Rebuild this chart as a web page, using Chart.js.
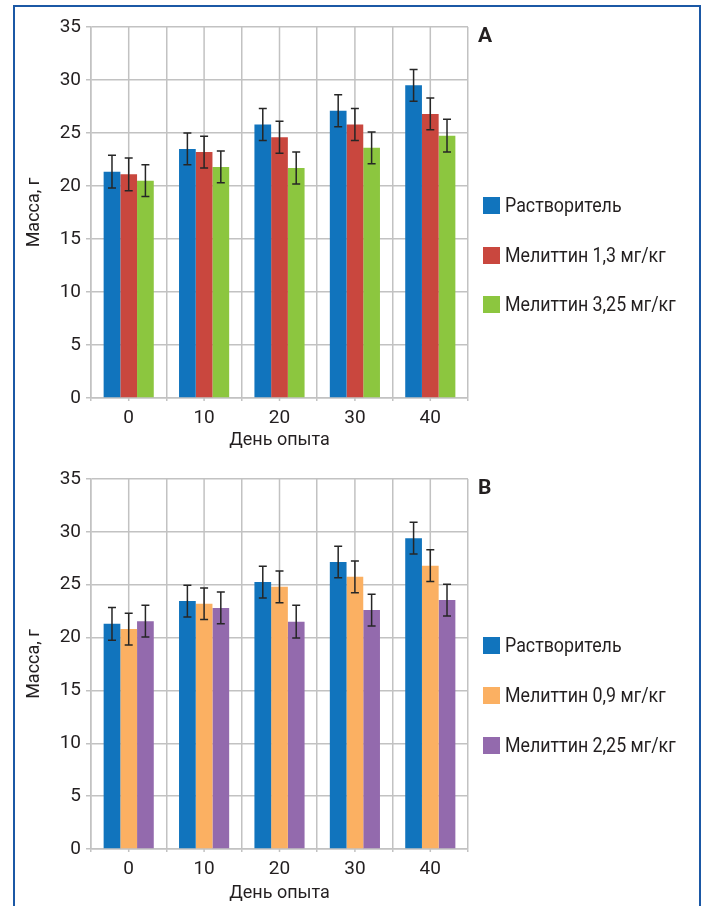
<!DOCTYPE html>
<html>
<head>
<meta charset="utf-8">
<script src="https://cdn.jsdelivr.net/npm/chart.js@4.4.1/dist/chart.umd.min.js"></script>
<style>
  body { margin: 0; width: 702px; height: 906px; overflow: hidden; background: #fff;
         font-family: Roboto, sans-serif; color: #231f20; }
  .frame { position: absolute; left: 13px; top: 5px; width: 684px; height: 960px;
           border: 2px solid #1b58a5; }
  .box { position: absolute; }
  .letter { position: absolute; left: 478px; font-weight: bold; font-size: 21px; line-height: 22px; }
  .leg { position: absolute; left: 483px; height: 17px; font-size: 20px; line-height: 17px; white-space: nowrap; }
  .leg span.sw { display: inline-block; width: 17px; height: 17px; vertical-align: top; margin-right: 5px; }
  .leg span.tx { display: inline-block; transform: scaleX(0.89); transform-origin: 0 50%; }
</style>
</head>
<body>
<div class="frame"></div>

<div class="box" style="left:15px; top:8px;"><canvas id="chartA" width="685" height="447"></canvas></div>
<div class="box" style="left:15px; top:455px;"><canvas id="chartB" width="685" height="451"></canvas></div>

<div class="letter" style="top:24px;">A</div>
<div class="letter" style="top:476px;">B</div>
<div id="legendA"></div>
<div id="legendB"></div>

<script>
// день опыта
var days = ['0', '10', '20', '30', '40'];
var yTicks = [0, 5, 10, 15, 20, 25, 30, 35];

// панель A
var namesA = ['Растворитель', 'Мелиттин 1,3 мг/кг', 'Мелиттин 3,25 мг/кг'];
var solventA = [21.35, 23.5, 25.8, 27.1, 29.5];
var mel13 = [21.1, 23.2, 24.6, 25.8, 26.8];
var mel325 = [20.5, 21.8, 21.7, 23.6, 24.75];
var errSolventA = [1.55, 1.5, 1.5, 1.5, 1.5];
var errMel13 = [1.55, 1.5, 1.5, 1.5, 1.5];
var errMel325 = [1.5, 1.5, 1.5, 1.5, 1.55];

// панель B
var namesB = ['Растворитель', 'Мелиттин 0,9 мг/кг', 'Мелиттин 2,25 мг/кг'];
var solventB = [21.3, 23.45, 25.25, 27.15, 29.4];
var mel09 = [20.8, 23.2, 24.8, 25.75, 26.8];
var mel225 = [21.55, 22.8, 21.5, 22.6, 23.55];
var errSolventB = [1.55, 1.5, 1.5, 1.5, 1.5];
var errMel09 = [1.5, 1.5, 1.5, 1.5, 1.5];
var errMel225 = [1.5, 1.5, 1.55, 1.5, 1.5];

var colorsA = ['#1174bd', '#c9473e', '#8cc63f'];
var colorsB = ['#1174bd', '#fbb062', '#936aad'];

var FONT = 'Roboto, sans-serif';
var gridColor = '#c2c2c2';
var textColor = '#231f20';

// усы ошибок
var errorBars = {
  id: 'errorBars',
  afterDatasetsDraw: function(chart) {
    var ctx = chart.ctx;
    var y = chart.scales.y;
    ctx.save();
    ctx.strokeStyle = '#262626';
    ctx.lineWidth = 1.5;
    chart.data.datasets.forEach(function(ds, i) {
      var meta = chart.getDatasetMeta(i);
      meta.data.forEach(function(bar, j) {
        var top = y.getPixelForValue(ds.data[j] + ds.err[j]);
        var bot = y.getPixelForValue(ds.data[j] - ds.err[j]);
        ctx.beginPath();
        ctx.moveTo(bar.x, top); ctx.lineTo(bar.x, bot);
        ctx.moveTo(bar.x - 4, top); ctx.lineTo(bar.x + 4, top);
        ctx.moveTo(bar.x - 4, bot); ctx.lineTo(bar.x + 4, bot);
        ctx.stroke();
      });
    });
    ctx.restore();
  }
};

// вертикальные линии через центр каждой группы
var centerLines = {
  id: 'centerLines',
  beforeDatasetsDraw: function(chart) {
    var ctx = chart.ctx;
    var x = chart.scales.x;
    var area = chart.chartArea;
    ctx.save();
    ctx.strokeStyle = gridColor;
    ctx.lineWidth = 1.5;
    chart.data.labels.forEach(function(l, i) {
      var px = x.getPixelForValue(i);
      ctx.beginPath();
      ctx.moveTo(px, area.top);
      ctx.lineTo(px, area.bottom + 3);
      ctx.stroke();
    });
    ctx.restore();
  }
};

function makeChart(id, names, colors, series, errs, padTop, titlePadBottom) {
  var datasets = series.map(function(s, i) {
    return {
      label: names[i],
      data: s,
      err: errs[i],
      backgroundColor: colors[i],
      borderWidth: 0,
      categoryPercentage: 0.665,
      barPercentage: 1.0
    };
  });
  return new Chart(document.getElementById(id), {
    type: 'bar',
    data: { labels: days, datasets: datasets },
    options: {
      responsive: false,
      animation: false,
      layout: { padding: { top: padTop, right: 232, left: 0, bottom: 0 } },
      plugins: { legend: { display: false }, tooltip: { enabled: false } },
      scales: {
        x: {
          offset: true,
          grid: { offset: true, color: gridColor, lineWidth: 1.5, tickLength: 3 },
          border: { color: gridColor, width: 1.5 },
          ticks: { color: textColor, padding: 6, font: { family: FONT, size: 19 } },
          title: { display: true, text: 'День опыта', color: textColor,
                   font: { family: FONT, size: 18 }, padding: { top: 0, bottom: titlePadBottom } },
          afterFit: function(s) { s.height = 57; }
        },
        y: {
          min: 0, max: 35,
          afterBuildTicks: function(s) { s.ticks = yTicks.map(function(v) { return { value: v }; }); },
          grid: { color: gridColor, lineWidth: 1.5, tickLength: 5 },
          border: { color: gridColor, width: 1.5 },
          ticks: { color: textColor, padding: 5, font: { family: FONT, size: 19 } },
          title: { display: true, text: 'Масса, г', color: textColor,
                   font: { family: FONT, size: 18 }, padding: { top: 9, bottom: 0 } },
          afterFit: function(s) { s.width = 76; }
        }
      }
    },
    plugins: [centerLines, errorBars]
  });
}

makeChart('chartA', namesA, colorsA, [solventA, mel13, mel325], [errSolventA, errMel13, errMel325], 19, 4);
makeChart('chartB', namesB, colorsB, [solventB, mel09, mel225], [errSolventB, errMel09, errMel225], 24, 2);

// легенда справа
function makeLegend(id, names, colors, centers) {
  var el = document.getElementById(id);
  names.forEach(function(n, i) {
    var d = document.createElement('div');
    d.className = 'leg';
    d.style.top = (centers[i] - 8.5) + 'px';
    d.innerHTML = '<span class="sw" style="background:' + colors[i] + '"></span><span class="tx">' + n + '</span>';
    el.appendChild(d);
  });
}
makeLegend('legendA', namesA, colorsA, [205, 255, 304]);
makeLegend('legendB', namesB, colorsB, [645, 695, 745]);
</script>
</body>
</html>
